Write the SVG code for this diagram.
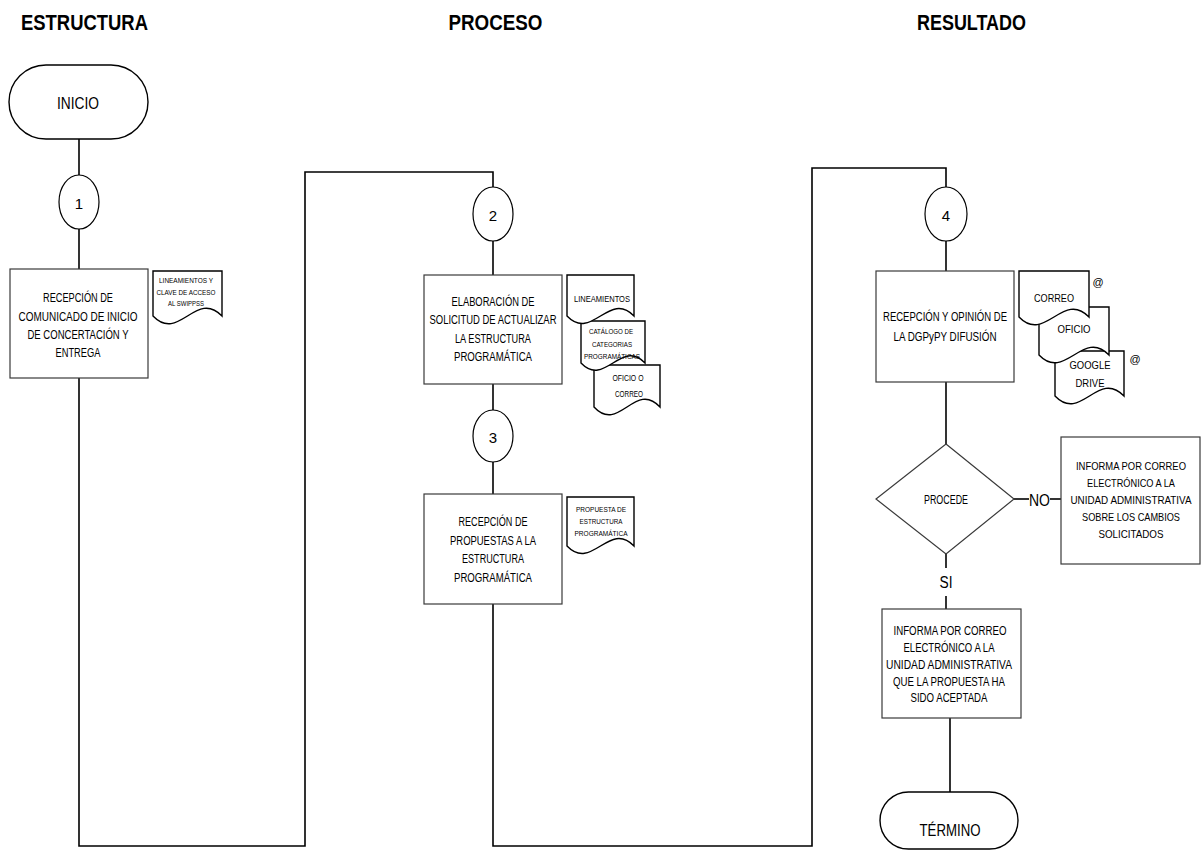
<svg xmlns="http://www.w3.org/2000/svg" width="1201" height="864" viewBox="0 0 1201 864">
  <style>
    text { font-family: "Liberation Sans", Arial, sans-serif; fill: #000; text-anchor: middle; dominant-baseline: central; }
    .title { font-weight: bold; font-size: 22px; dominant-baseline: auto; }
    .body { font-size: 12.5px; }
    .body-s { font-size: 10.5px; }
    .big { font-size: 16px; }
    .num { font-size: 15px; }
    .tiny { font-size: 7px; }
    .small { font-size: 8px; }
    .doc-m { font-size: 9px; }
    .doc-l { font-size: 11px; }
    .box { fill: #fff; stroke: #3a3a3a; stroke-width: 1.2; }
    .term { fill: #fff; stroke: #000; stroke-width: 1.4; }
    .conn { fill: #fff; stroke: #000; stroke-width: 1.2; }
    .doc { fill: #fff; stroke: #000; stroke-width: 1.4; }
    .line { fill: none; stroke: #000; stroke-width: 1.6; }
  </style>

  <!-- column headings -->
  <g id="headings">
    <text class="title" x="84.5" y="30" textLength="127" lengthAdjust="spacingAndGlyphs">ESTRUCTURA</text>
    <text class="title" x="495.5" y="30" textLength="94" lengthAdjust="spacingAndGlyphs">PROCESO</text>
    <text class="title" x="971.5" y="30" textLength="109" lengthAdjust="spacingAndGlyphs">RESULTADO</text>
  </g>

  <!-- flow lines -->
  <g id="connectors">
    <path class="line" d="M79,139 V175"/>
    <path class="line" d="M79,229 V269"/>
    <path class="line" d="M79,378 V846 H305 V172 H493 V187"/>
    <path class="line" d="M493,241 V275"/>
    <path class="line" d="M493,384 V410"/>
    <path class="line" d="M493,462 V494"/>
    <path class="line" d="M493,604 V846 H812 V168 H946 V187"/>
    <path class="line" d="M946,241 V271"/>
    <path class="line" d="M946,382 V444"/>
    <path class="line" d="M946,554 V568"/>
    <path class="line" d="M946,596 V609"/>
    <path class="line" d="M950,718 V792"/>
    <path class="line" d="M1014,499 H1029"/>
    <path class="line" d="M1050,499 H1061"/>
    <text class="big" x="1039.5" y="500" textLength="21" lengthAdjust="spacingAndGlyphs">NO</text>
    <text class="big" x="946" y="582" font-size="17" textLength="13" lengthAdjust="spacingAndGlyphs">SI</text>
  </g>

  <!-- start / end -->
  <g id="inicio">
    <rect class="term" x="9" y="65" width="139" height="74" rx="37" ry="37"/>
    <text class="big" x="78" y="103" textLength="42" lengthAdjust="spacingAndGlyphs">INICIO</text>
  </g>
  <g id="termino">
    <rect class="term" x="880" y="792" width="138" height="57" rx="28.5" ry="28.5"/>
    <text class="big" x="950" y="830" textLength="61" lengthAdjust="spacingAndGlyphs">TÉRMINO</text>
  </g>

  <!-- step markers -->
  <g id="step1">
    <ellipse class="conn" cx="79" cy="202" rx="20" ry="27"/>
    <text class="num" x="79" y="203">1</text>
  </g>
  <g id="step2">
    <ellipse class="conn" cx="493" cy="214" rx="20" ry="27"/>
    <text class="num" x="493" y="215">2</text>
  </g>
  <g id="step3">
    <ellipse class="conn" cx="493" cy="436" rx="20" ry="26"/>
    <text class="num" x="493" y="437">3</text>
  </g>
  <g id="step4">
    <ellipse class="conn" cx="946" cy="214" rx="21" ry="27"/>
    <text class="num" x="946" y="215">4</text>
  </g>

  <!-- ESTRUCTURA column -->
  <g id="recepcion-comunicado">
    <rect class="box" x="10" y="269" width="138" height="109"/>
    <text class="body" x="78" y="298" textLength="70" lengthAdjust="spacingAndGlyphs">RECEPCIÓN DE</text>
    <text class="body" x="78" y="317" textLength="119" lengthAdjust="spacingAndGlyphs">COMUNICADO DE INICIO</text>
    <text class="body" x="78" y="335" textLength="101" lengthAdjust="spacingAndGlyphs">DE CONCERTACIÓN Y</text>
    <text class="body" x="78" y="353" textLength="45" lengthAdjust="spacingAndGlyphs">ENTREGA</text>
  </g>
  <g id="doc-lineamientos-clave">
    <path class="doc" d="M153,271 H222 V316 C196,289 179,343 153,316 Z"/>
    <text class="tiny" x="186" y="280" textLength="54" lengthAdjust="spacingAndGlyphs">LINEAMIENTOS Y</text>
    <text class="tiny" x="186" y="292" textLength="59" lengthAdjust="spacingAndGlyphs">CLAVE DE ACCESO</text>
    <text class="tiny" x="186" y="303" textLength="36" lengthAdjust="spacingAndGlyphs">AL SWIPPSS</text>
  </g>

  <!-- PROCESO column -->
  <g id="elaboracion-solicitud">
    <rect class="box" x="424" y="275" width="138" height="109"/>
    <text class="body" x="493" y="302" textLength="83" lengthAdjust="spacingAndGlyphs">ELABORACIÓN DE</text>
    <text class="body" x="493" y="320" textLength="127" lengthAdjust="spacingAndGlyphs">SOLICITUD DE ACTUALIZAR</text>
    <text class="body" x="493" y="339" textLength="76" lengthAdjust="spacingAndGlyphs">LA ESTRUCTURA</text>
    <text class="body" x="493" y="357" textLength="78" lengthAdjust="spacingAndGlyphs">PROGRAMÁTICA</text>
  </g>
  <g id="doc-oficio-correo">
    <path class="doc" d="M594,365 H660 V407 C635,380 619,434 594,407 Z"/>
    <text class="doc-m" x="628" y="378" textLength="31" lengthAdjust="spacingAndGlyphs">OFICIO O</text>
    <text class="doc-m" x="629" y="394" textLength="28" lengthAdjust="spacingAndGlyphs">CORREO</text>
  </g>
  <g id="doc-catalogo">
    <path class="doc" d="M581,321 H645 V363 C621,338 605,388 581,363 Z"/>
    <text class="small" x="611" y="331" textLength="44" lengthAdjust="spacingAndGlyphs">CATÁLOGO DE</text>
    <text class="small" x="612" y="344" textLength="40" lengthAdjust="spacingAndGlyphs">CATEGORIAS</text>
    <text class="small" x="612" y="356" textLength="56" lengthAdjust="spacingAndGlyphs">PROGRAMÁTICAS</text>
  </g>
  <g id="doc-lineamientos">
    <path class="doc" d="M567,275 H634 V316 C609,290 592,342 567,316 Z"/>
    <text class="doc-m" x="602" y="299" textLength="56" lengthAdjust="spacingAndGlyphs">LINEAMIENTOS</text>
  </g>
  <g id="recepcion-propuestas">
    <rect class="box" x="424" y="494" width="138" height="110"/>
    <text class="body" x="493" y="522" textLength="69" lengthAdjust="spacingAndGlyphs">RECEPCIÓN DE</text>
    <text class="body" x="493" y="541" textLength="86" lengthAdjust="spacingAndGlyphs">PROPUESTAS A LA</text>
    <text class="body" x="493" y="559" textLength="62" lengthAdjust="spacingAndGlyphs">ESTRUCTURA</text>
    <text class="body" x="493" y="578" textLength="78" lengthAdjust="spacingAndGlyphs">PROGRAMÁTICA</text>
  </g>
  <g id="doc-propuesta">
    <path class="doc" d="M567,497 H634 V546 C609,520 592,572 567,546 Z"/>
    <text class="tiny" x="601" y="509" textLength="50" lengthAdjust="spacingAndGlyphs">PROPUESTA DE</text>
    <text class="tiny" x="601" y="521" textLength="43" lengthAdjust="spacingAndGlyphs">ESTRUCTURA</text>
    <text class="tiny" x="601" y="533" textLength="53" lengthAdjust="spacingAndGlyphs">PROGRAMÁTICA</text>
  </g>

  <!-- RESULTADO column -->
  <g id="recepcion-opinion">
    <rect class="box" x="876" y="271" width="138" height="111"/>
    <text class="body" x="945" y="317" textLength="124" lengthAdjust="spacingAndGlyphs">RECEPCIÓN Y OPINIÓN DE</text>
    <text class="body" x="945" y="337" textLength="103" lengthAdjust="spacingAndGlyphs">LA DGPyPY DIFUSIÓN</text>
  </g>
  <g id="doc-google-drive">
    <path class="doc" d="M1055,351 H1124 V396 C1098,369 1081,423 1055,396 Z"/>
    <text class="doc-l" x="1090" y="365" textLength="41" lengthAdjust="spacingAndGlyphs">GOOGLE</text>
    <text class="doc-l" x="1090" y="383" textLength="29" lengthAdjust="spacingAndGlyphs">DRIVE</text>
    <text class="doc-l" x="1135" y="359">@</text>
  </g>
  <g id="doc-oficio">
    <path class="doc" d="M1039,307 H1109 V355 C1083,328 1065,382 1039,355 Z"/>
    <text class="doc-l" x="1074" y="329" textLength="33" lengthAdjust="spacingAndGlyphs">OFICIO</text>
  </g>
  <g id="doc-correo">
    <path class="doc" d="M1019,271 H1089 V317 C1063,290 1045,344 1019,317 Z"/>
    <text class="doc-l" x="1054" y="298" textLength="40" lengthAdjust="spacingAndGlyphs">CORREO</text>
    <text class="doc-l" x="1098" y="282">@</text>
  </g>
  <g id="procede">
    <polygon class="box" points="946,444 1014,499 946,554 876,499"/>
    <text class="body" x="946" y="500" textLength="44" lengthAdjust="spacingAndGlyphs">PROCEDE</text>
  </g>
  <g id="informa-cambios">
    <rect class="box" x="1061" y="437" width="139" height="127"/>
    <text class="body-s" x="1131" y="466" textLength="110" lengthAdjust="spacingAndGlyphs">INFORMA POR CORREO</text>
    <text class="body-s" x="1131" y="483" textLength="88" lengthAdjust="spacingAndGlyphs">ELECTRÓNICO A LA</text>
    <text class="body-s" x="1131" y="500" textLength="121" lengthAdjust="spacingAndGlyphs">UNIDAD ADMINISTRATIVA</text>
    <text class="body-s" x="1131" y="517" textLength="98" lengthAdjust="spacingAndGlyphs">SOBRE LOS CAMBIOS</text>
    <text class="body-s" x="1131" y="534" textLength="65" lengthAdjust="spacingAndGlyphs">SOLICITADOS</text>
  </g>
  <g id="informa-aceptada">
    <rect class="box" x="882" y="609" width="139" height="109"/>
    <text class="body" x="950" y="631" textLength="113" lengthAdjust="spacingAndGlyphs">INFORMA POR CORREO</text>
    <text class="body" x="949" y="648" textLength="91" lengthAdjust="spacingAndGlyphs">ELECTRÓNICO A LA</text>
    <text class="body" x="949" y="665" textLength="126" lengthAdjust="spacingAndGlyphs">UNIDAD ADMINISTRATIVA</text>
    <text class="body" x="949" y="682" textLength="112" lengthAdjust="spacingAndGlyphs">QUE LA PROPUESTA HA</text>
    <text class="body" x="949" y="698" textLength="77" lengthAdjust="spacingAndGlyphs">SIDO ACEPTADA</text>
  </g>
</svg>
